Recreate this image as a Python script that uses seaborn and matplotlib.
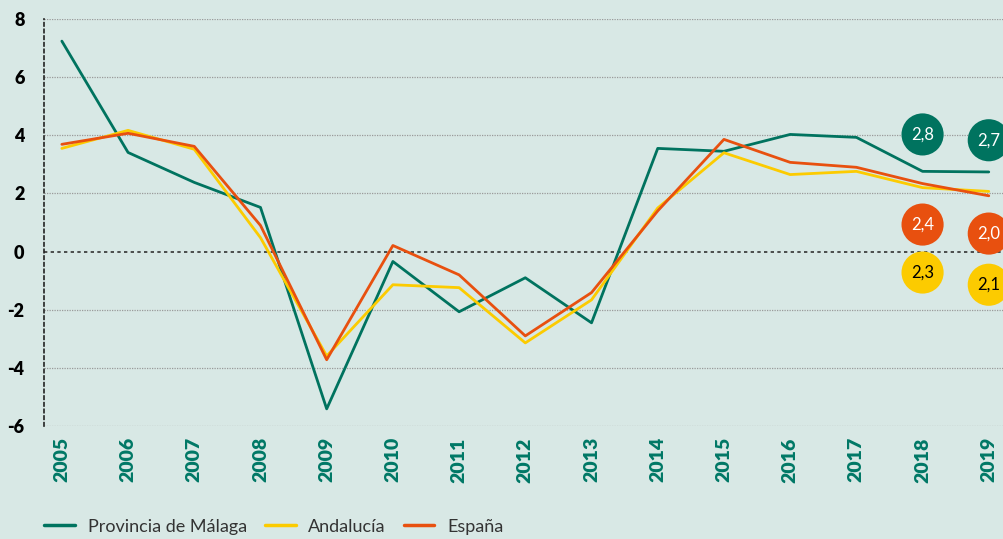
import pandas as pd
import matplotlib.pyplot as plt
import seaborn as sns

sns.set_theme(style="white")
plt.rcParams['font.family'] = ['Lato', 'DejaVu Sans']

years = list(range(2005, 2020))
malaga = [7.24, 3.41, 2.38, 1.52, -5.41, -0.34, -2.07, -0.9, -2.45, 3.55, 3.45, 4.03, 3.93, 2.76, 2.74]
andalucia = [3.55, 4.17, 3.52, 0.48, -3.59, -1.14, -1.24, -3.14, -1.66, 1.5, 3.4, 2.65, 2.76, 2.2, 2.07]
espana = [3.69, 4.07, 3.62, 0.9, -3.72, 0.21, -0.8, -2.9, -1.41, 1.4, 3.86, 3.07, 2.9, 2.34, 1.92]
series_names = ["Provincia de Málaga", "Andalucía", "España"]

label_years = [2018, 2019]
malaga_labels = ["2,8", "2,7"]
andalucia_labels = ["2,3", "2,1"]
espana_labels = ["2,4", "2,0"]

teal = "#00735f"
yellow = "#fccb00"
orange = "#e8500f"
bg = "#d8e8e5"

df = pd.DataFrame({
    "year": years * 3,
    "value": malaga + andalucia + espana,
    "serie": [series_names[0]] * 15 + [series_names[1]] * 15 + [series_names[2]] * 15,
})

fig = plt.figure(figsize=(10.04, 5.39), dpi=100, facecolor=bg)
ax = fig.add_axes([0.0438, 0.2096, 0.9562, 0.7551])
ax.set_facecolor(bg)

sns.lineplot(data=df, x="year", y="value", hue="serie",
             palette=[teal, yellow, orange], linewidth=2, ax=ax, legend=False)

# bubble labels (placement only, values come from label lists)
bubble_y = {teal: [4.03, 3.83], orange: [0.93, 0.62], yellow: [-0.72, -1.14]}
for color, labels, txtc in [(teal, malaga_labels, "white"),
                            (orange, espana_labels, "white"),
                            (yellow, andalucia_labels, "black")]:
    ax.scatter(label_years, bubble_y[color], s=920, color=color, zorder=5,
               edgecolors="none", clip_on=False)
    for x, y, t in zip(label_years, bubble_y[color], labels):
        ax.text(x, y, t, ha="center", va="center", color=txtc, fontsize=12, zorder=6)

ax.set_xlim(2004.73, 2019.23)
ax.set_ylim(-6, 8)
ax.set_yticks(range(-6, 9, 2))
ax.set_xticks(years)
ax.set_xticklabels([str(y) for y in years], rotation=90, color="#007866",
                   fontweight="heavy", fontsize=14)
ax.set_yticklabels([str(v) for v in range(-6, 9, 2)], fontweight="heavy",
                   fontsize=13, color="black")
ax.tick_params(axis="x", length=0, pad=8)
ax.tick_params(axis="y", length=0, pad=14)
ax.set_xlabel("")
ax.set_ylabel("")

for v in range(-6, 9, 2):
    if v == 0:
        ax.axhline(0, color="#333333", linestyle=(0, (2, 2)), linewidth=1.2, zorder=1)
    else:
        ax.axhline(v, color="#9a9a9a", linestyle=(0, (1, 1)), linewidth=0.9, zorder=1)

for s in ["top", "right", "bottom"]:
    ax.spines[s].set_visible(False)
ax.spines["left"].set_linestyle((0, (2, 2)))
ax.spines["left"].set_color("#222222")
ax.spines["left"].set_linewidth(1.2)

handles = [plt.Line2D([], [], color=c, linewidth=2.5) for c in [teal, yellow, orange]]
leg = fig.legend(handles, series_names, loc="lower left", bbox_to_anchor=(0.028, -0.022),
                 ncol=3, frameon=False, fontsize=13, handlelength=1.7, handletextpad=0.7,
                 columnspacing=1.0, labelcolor="#333333")

fig.savefig("out.png", dpi=100, facecolor=bg)
